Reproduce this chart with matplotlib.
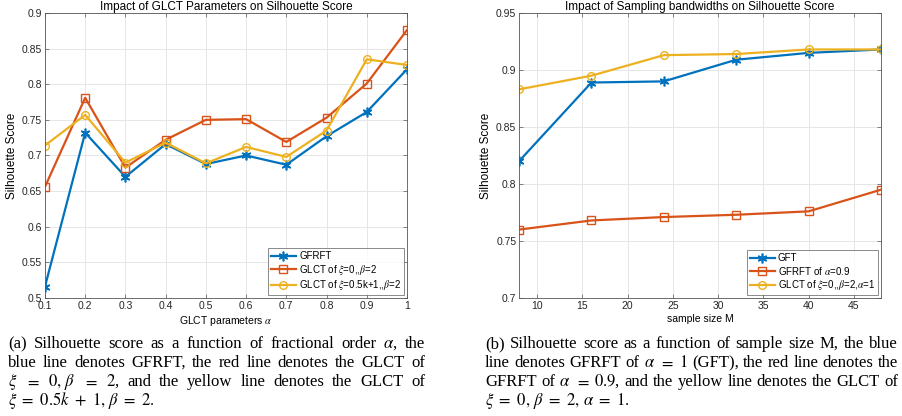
"""
Silhouette score vs GLCT parameter alpha and vs sample size M.
"""
import matplotlib
matplotlib.use('Agg')
import matplotlib.pyplot as plt

plt.rcParams['font.family'] = ['Liberation Sans', 'DejaVu Sans']
plt.rcParams['mathtext.fontset'] = 'stix'

# --- data, left panel ---
alpha = [0.1, 0.2, 0.3, 0.4, 0.5, 0.6, 0.7, 0.8, 0.9, 1.0]
gfrft = [0.516, 0.732, 0.670, 0.716, 0.688, 0.700, 0.687, 0.727, 0.761, 0.821]
glct_xi0 = [0.656, 0.781, 0.683, 0.722, 0.750, 0.751, 0.719, 0.753, 0.801, 0.876]
glct_xik = [0.714, 0.757, 0.690, 0.718, 0.689, 0.712, 0.698, 0.735, 0.835, 0.827]

# --- data, right panel ---
sample_m = [8, 16, 24, 32, 40, 48]
gft = [0.820, 0.889, 0.890, 0.909, 0.915, 0.918]
gfrft_09 = [0.760, 0.768, 0.771, 0.773, 0.776, 0.795]
glct_a1 = [0.883, 0.895, 0.913, 0.914, 0.918, 0.918]

BLUE, RED, YELLOW = '#0072BD', '#D95319', '#EDB120'
AXCOL = '#555555'
ASTERISK = (6, 2, 0)  # MATLAB-like '*' marker

fig = plt.figure(figsize=(9.03, 4.16), dpi=100)
ax1 = fig.add_axes([0.0498, 0.2837, 0.4009, 0.6851])
ax2 = fig.add_axes([0.5748, 0.2837, 0.4009, 0.6851])


def style_axes(ax):
    ax.grid(True, color='#e6e6e6', linewidth=0.7)
    ax.set_axisbelow(True)
    for s in ax.spines.values():
        s.set_color(AXCOL)
        s.set_linewidth(0.6)
    ax.tick_params(direction='in', length=3, width=0.5, colors=AXCOL,
                   labelsize=7.5, labelcolor='#262626',
                   top=True, right=True, pad=2)


line_kw = dict(linewidth=1.6, markersize=5.5)
star_kw = dict(linewidth=1.6, markersize=7, markeredgewidth=1.2)

ax1.plot(alpha, gfrft, '-', marker=ASTERISK, color=BLUE, label='GFRFT', **star_kw)
ax1.plot(alpha, glct_xi0, '-s', color=RED, mfc='none', label=r'GLCT of $\xi$=0,,$\beta$=2', **line_kw)
ax1.plot(alpha, glct_xik, '-o', color=YELLOW, mfc='none', label=r'GLCT of $\xi$=0.5k+1,,$\beta$=2', **line_kw)
ax1.set_xlim(0.1, 1.0)
ax1.set_ylim(0.5, 0.9)
ax1.set_xticks(alpha)
ax1.set_xticklabels(['0.1', '0.2', '0.3', '0.4', '0.5', '0.6', '0.7', '0.8', '0.9', '1'])
ax1.set_yticks([0.5, 0.55, 0.6, 0.65, 0.7, 0.75, 0.8, 0.85, 0.9])
ax1.set_yticklabels(['0.5', '0.55', '0.6', '0.65', '0.7', '0.75', '0.8', '0.85', '0.9'])
ax1.set_xlabel(r'GLCT parameters $\alpha$', fontsize=7.5, labelpad=2)
ax1.set_ylabel('Silhouette Score', fontsize=8.5, labelpad=3)
ax1.set_title('Impact of GLCT Parameters on Silhouette Score', fontsize=8.5, pad=2)
style_axes(ax1)

ax2.plot(sample_m, gft, '-', marker=ASTERISK, color=BLUE, label='GFT', **star_kw)
ax2.plot(sample_m, gfrft_09, '-s', color=RED, mfc='none', label=r'GFRFT of $\alpha$=0.9', **line_kw)
ax2.plot(sample_m, glct_a1, '-o', color=YELLOW, mfc='none', label=r'GLCT of $\xi$=0,,$\beta$=2,$\alpha$=1', **line_kw)
ax2.set_xlim(8, 48)
ax2.set_ylim(0.7, 0.95)
ax2.set_xticks([10, 15, 20, 25, 30, 35, 40, 45])
ax2.set_yticks([0.7, 0.75, 0.8, 0.85, 0.9, 0.95])
ax2.set_yticklabels(['0.7', '0.75', '0.8', '0.85', '0.9', '0.95'])
ax2.set_xlabel('sample size M', fontsize=7.5, labelpad=2)
ax2.set_ylabel('Silhouette Score', fontsize=8.5, labelpad=3)
ax2.set_title('Impact of Sampling bandwidths on Silhouette Score', fontsize=8.5, pad=2)
style_axes(ax2)

for ax in (ax1, ax2):
    leg = ax.legend(loc='lower right', fontsize=7, frameon=True, fancybox=False,
                    borderaxespad=0.3, handlelength=2.6, handletextpad=0.3,
                    borderpad=0.3, labelspacing=0.15)
    leg.get_frame().set_edgecolor(AXCOL)
    leg.get_frame().set_linewidth(0.6)

# --- captions (justified lines) ---
CAP_SIZE = 12
CAP_FONT = ['Liberation Serif', 'DejaVu Serif']
renderer = fig.canvas.get_renderer()


def justified(words, x0, x1, y, justify=True):
    texts = [fig.text(0, y, w, fontsize=CAP_SIZE, family=CAP_FONT,
                      va='baseline', ha='left', transform=None) for w in words]
    widths = [t.get_window_extent(renderer).width for t in texts]
    if justify and len(words) > 1:
        gap = (x1 - x0 - sum(widths)) / (len(words) - 1)
    else:
        gap = 0
    x = x0
    for t, w in zip(texts, widths):
        t.set_position((x, y))
        x += w + gap


H = 416
caption_a = [
    r'(a) Silhouette score as a function of fractional order $\alpha$, the',
    r'blue line denotes GFRFT, the red line denotes the GLCT of',
    r'$\xi$ $=$ $0,\,\beta$ $=$ $2$, and the yellow line denotes the GLCT of',
    r'$\xi\ =\ 0.5k\ +\ 1,\,\beta\ =\ 2.$',
]
caption_b = [
    r'(b) Silhouette score as a function of sample size M, the blue',
    r'line denotes GFRFT of $\alpha$ $=$ $1$ (GFT), the red line denotes the',
    r'GFRFT of $\alpha$ $=$ $0.9$, and the yellow line denotes the GLCT of',
    r'$\xi\ =\ 0,\,\beta\ =\ 2,\,\alpha\ =\ 1.$',
]
baselines = [348, 367, 386, 405]
for i, (la, lb) in enumerate(zip(caption_a, caption_b)):
    if i == 3:
        justified([la], 8, 425, H - baselines[i], justify=False)
        justified([lb], 485, 898, H - baselines[i], justify=False)
    else:
        justified(la.split(' '), 8, 425, H - baselines[i])
        justified(lb.split(' '), 485, 898, H - baselines[i])

fig.savefig('out.png', dpi=100)
